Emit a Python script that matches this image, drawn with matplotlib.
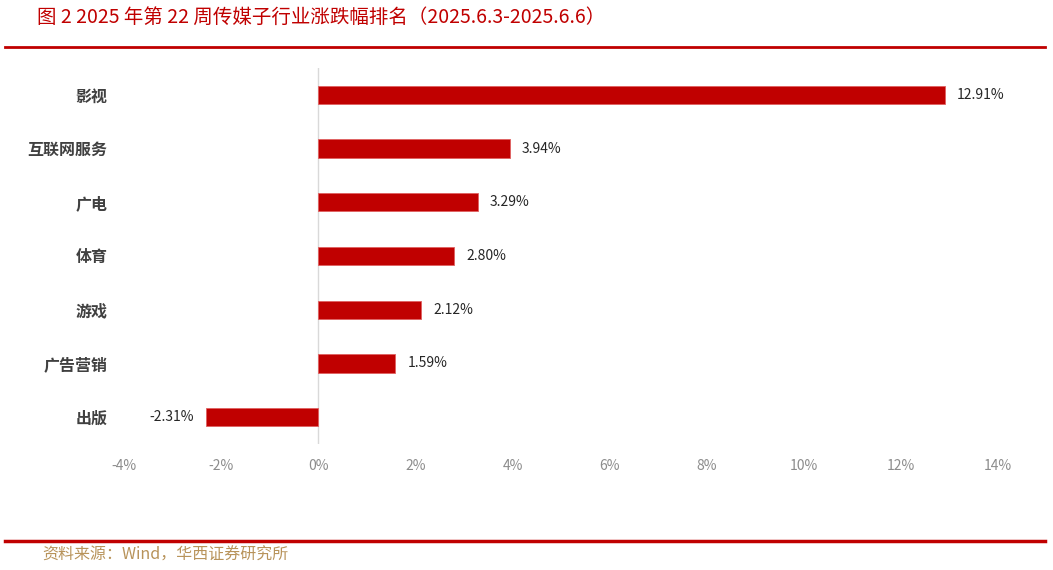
import matplotlib.pyplot as plt
import numpy as np

plt.rcParams['font.family'] = ['Noto Sans CJK SC', 'DejaVu Sans']

categories = ["影视", "互联网服务", "广电", "体育", "游戏", "广告营销", "出版"]
values = [12.91, 3.94, 3.29, 2.80, 2.12, 1.59, -2.31]
xticks = [-4, -2, 0, 2, 4, 6, 8, 10, 12, 14]

W, H = 1053, 570
fig = plt.figure(figsize=(W / 100, H / 100), dpi=100)
ax = fig.add_axes([124 / W, 1 - 444 / H, (998 - 124) / W, (444 - 68) / H])

y = np.arange(len(categories))[::-1]
ax.barh(y, values, height=0.34, color="#C00000", edgecolor="#E06060", linewidth=0.6)
ax.set_xlim(-4, 14)
ax.set_ylim(-0.5, len(categories) - 0.5)
ax.axvline(0, color="#D9D9D9", lw=1, zorder=0)

for yi, v in zip(y, values):
    if v >= 0:
        ax.text(v + 0.25, yi, f"{v:.2f}%", va="center", ha="left", fontsize=10, color="#262626")
    else:
        ax.text(v - 0.25, yi, f"-{abs(v):.2f}%", va="center", ha="right", fontsize=10, color="#262626")

for s in ax.spines.values():
    s.set_visible(False)
ax.set_xticks(xticks)
ax.set_xticklabels([f"{t}%" for t in xticks], fontsize=10, color="#8C8C8C")
ax.tick_params(axis="x", length=0, pad=11)
ax.set_yticks(y)
ax.set_yticklabels(categories, fontsize=11.5, color="#404040", fontweight="bold")
ax.tick_params(axis="y", length=0, pad=12)

fig.text(37 / W, 1 - 17 / H, "图 2 2025 年第 22 周传媒子行业涨跌幅排名（2025.6.3-2025.6.6）",
         fontsize=14, color="#C00000", va="center", ha="left")
fig.add_artist(plt.Line2D([5 / W, 1045 / W], [1 - 47 / H, 1 - 47 / H], color="#C00000", lw=2))
fig.add_artist(plt.Line2D([5 / W, 1045 / W], [1 - 541 / H, 1 - 541 / H], color="#C00000", lw=2.5))
fig.text(42 / W, 1 - 555 / H, "资料来源：Wind，华西证券研究所", fontsize=11.5, color="#B8935A",
         va="center", ha="left")

fig.savefig("out.png", dpi=100)
